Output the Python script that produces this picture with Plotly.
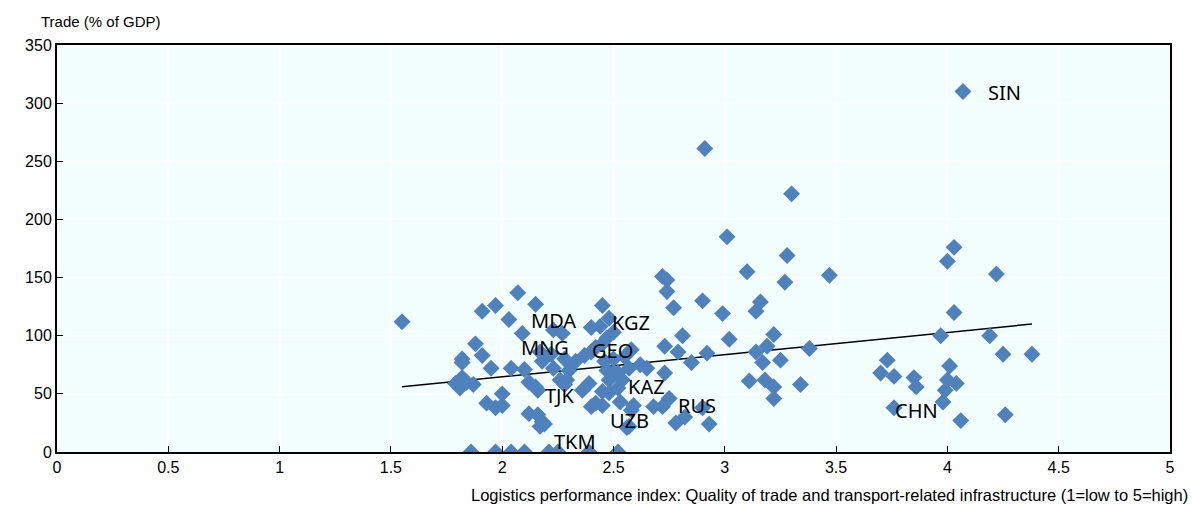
import plotly.graph_objects as go
import numpy as np

# Logistics performance index (x) and trade as % of GDP (y)
lpi = [
    1.55, 2.07, 1.91, 1.97, 2.15, 2.03, 2.09, 1.88, 1.91, 1.82, 1.82, 1.95, 2.04, 2.10, 2.18, 2.23,
    1.82, 1.79, 1.81, 1.87, 1.84, 2.12, 2.15, 2.16, 2.26, 2.00, 1.93, 1.97, 2.00, 2.12, 2.19, 2.17,
    1.86, 1.97, 2.04, 2.10, 2.21, 2.25, 2.39, 2.52,
    2.23, 2.27, 2.17, 2.22, 2.28, 2.33, 2.37, 2.40, 2.42, 2.45, 2.47, 2.50, 2.44, 2.40, 2.30,
    2.46, 2.50, 2.55, 2.58, 2.47, 2.52, 2.57, 2.62, 2.48, 2.28, 2.39, 2.45,
    2.48, 2.52, 2.36, 2.29, 2.54, 2.50, 2.65,
    2.72, 2.74, 2.74, 2.77, 2.90, 2.99, 2.45, 2.48, 2.81, 3.02, 2.73, 2.79, 2.92, 2.85, 2.73, 2.72,
    2.75, 2.78, 2.82, 2.93, 2.90, 2.68, 2.59, 2.58, 2.57, 2.40, 2.45, 2.42, 2.53, 2.56, 2.18, 2.16,
    2.91, 3.30, 3.01, 3.28, 3.10, 3.47, 3.27, 3.16, 3.14, 3.22, 3.19, 3.14, 3.38, 3.17, 3.25, 3.11,
    3.18, 3.22, 3.34, 3.22,
    4.07, 4.03, 4.00, 4.22, 4.03, 3.97, 4.19, 4.25, 4.38, 3.73, 3.70, 3.76, 3.85, 3.86, 4.01, 4.00,
    4.04, 3.99, 3.98, 3.76, 4.06, 4.26,
]
trade = [
    112, 137, 121, 126, 127, 114, 102, 93, 83, 80, 77, 72, 72, 71, 78, 72,
    64, 59, 55, 58, 60, 60, 56, 53, 62, 50, 42, 38, 40, 33, 24, 22,
    0, 0, 0, 0, 0, 0, 0, 0,
    105, 102, 86, 84, 80, 78, 83, 86, 90, 93, 98, 103, 108, 107, 70,
    78, 80, 82, 88, 70, 68, 72, 75, 62, 58, 59, 52,
    51, 55, 53, 62, 62, 68, 72,
    151, 148, 138, 124, 130, 119, 126, 115, 100, 97, 91, 86, 85, 77, 68, 39,
    46, 25, 30, 24, 38, 39, 40, 36, 22, 39, 40, 42, 43, 21, 26, 32,
    261, 222, 185, 169, 155, 152, 146, 129, 121, 101, 91, 86, 89, 77, 79, 61,
    62, 56, 58, 46,
    310, 176, 164, 153, 120, 100, 100, 84, 84, 79, 68, 65, 64, 56, 74, 62,
    59, 53, 43, 38, 27, 32,
]

# Trend line (trade = intercept + slope * lpi)
trend_intercept = 26.4
trend_slope = 19.1

# Country labels and the spot (in data units) where each text begins
label_codes = ["SIN", "CHN", "RUS", "UZB", "KAZ", "TJK", "TKM", "MNG", "MDA", "GEO", "KGZ"]
label_lpi = [4.18, 3.76, 2.785, 2.48, 2.56, 2.19, 2.23, 2.08, 2.125, 2.40, 2.49]
label_trade = [309, 36, 40, 27, 56, 49, 9, 90, 113, 87, 111]

x_ticks = [0, 0.5, 1, 1.5, 2, 2.5, 3, 3.5, 4, 4.5, 5]
y_ticks = [0, 50, 100, 150, 200, 250, 300, 350]

tick_font = dict(family="Liberation Sans Narrow, Arial Narrow, Liberation Sans, Arial", size=16, color="#000")
label_font = dict(family="Noto Sans, Open Sans, Liberation Sans", size=20, color="#000")

fig = go.Figure()

tx = np.array([min(lpi), max(lpi)])
fig.add_trace(go.Scatter(
    x=tx, y=trend_intercept + trend_slope * tx, mode="lines",
    line=dict(color="#000000", width=1.5), hoverinfo="skip", showlegend=False,
))

fig.add_trace(go.Scatter(
    x=lpi, y=trade, mode="markers",
    marker=dict(symbol="diamond", size=13, color="#4F81BD", line=dict(width=0)),
    showlegend=False,
))

for code, lx, ly in zip(label_codes, label_lpi, label_trade):
    fig.add_annotation(x=lx, y=ly, text=code, showarrow=False, xanchor="left",
                       yanchor="middle", font=label_font, borderpad=0)

fig.add_annotation(xref="paper", yref="paper", x=1.018, y=-0.106, xanchor="right", yanchor="middle",
                   text="Logistics performance index: Quality of trade and transport-related infrastructure (1=low to 5=high)",
                   showarrow=False, font=dict(tick_font, size=16.5))
fig.add_annotation(xref="paper", yref="paper", x=-0.016, y=1.058, xanchor="left", yanchor="middle",
                   text="Trade (% of GDP)", showarrow=False, font=dict(tick_font, size=15))

fig.update_layout(
    width=1192, height=505,
    margin=dict(l=57, r=22, t=45, b=53),
    paper_bgcolor="#FFFFFF", plot_bgcolor="#F3FEFE",
    xaxis=dict(range=[0, 5], tickvals=x_ticks, ticktext=[str(v) for v in x_ticks],
               showgrid=True, gridcolor="#FFFFFF", gridwidth=1.5, zeroline=False,
               showline=True, linecolor="#000", linewidth=2, mirror=True,
               ticks="inside", ticklen=6, tickcolor="#000", tickfont=tick_font),
    yaxis=dict(range=[0, 350], tickvals=y_ticks, showgrid=True, gridcolor="#FFFFFF", gridwidth=1.5,
               zeroline=False, showline=True, linecolor="#000", linewidth=2, mirror=True,
               ticks="inside", ticklen=6, tickcolor="#000", tickfont=tick_font),
)

fig.write_html("out.html")
